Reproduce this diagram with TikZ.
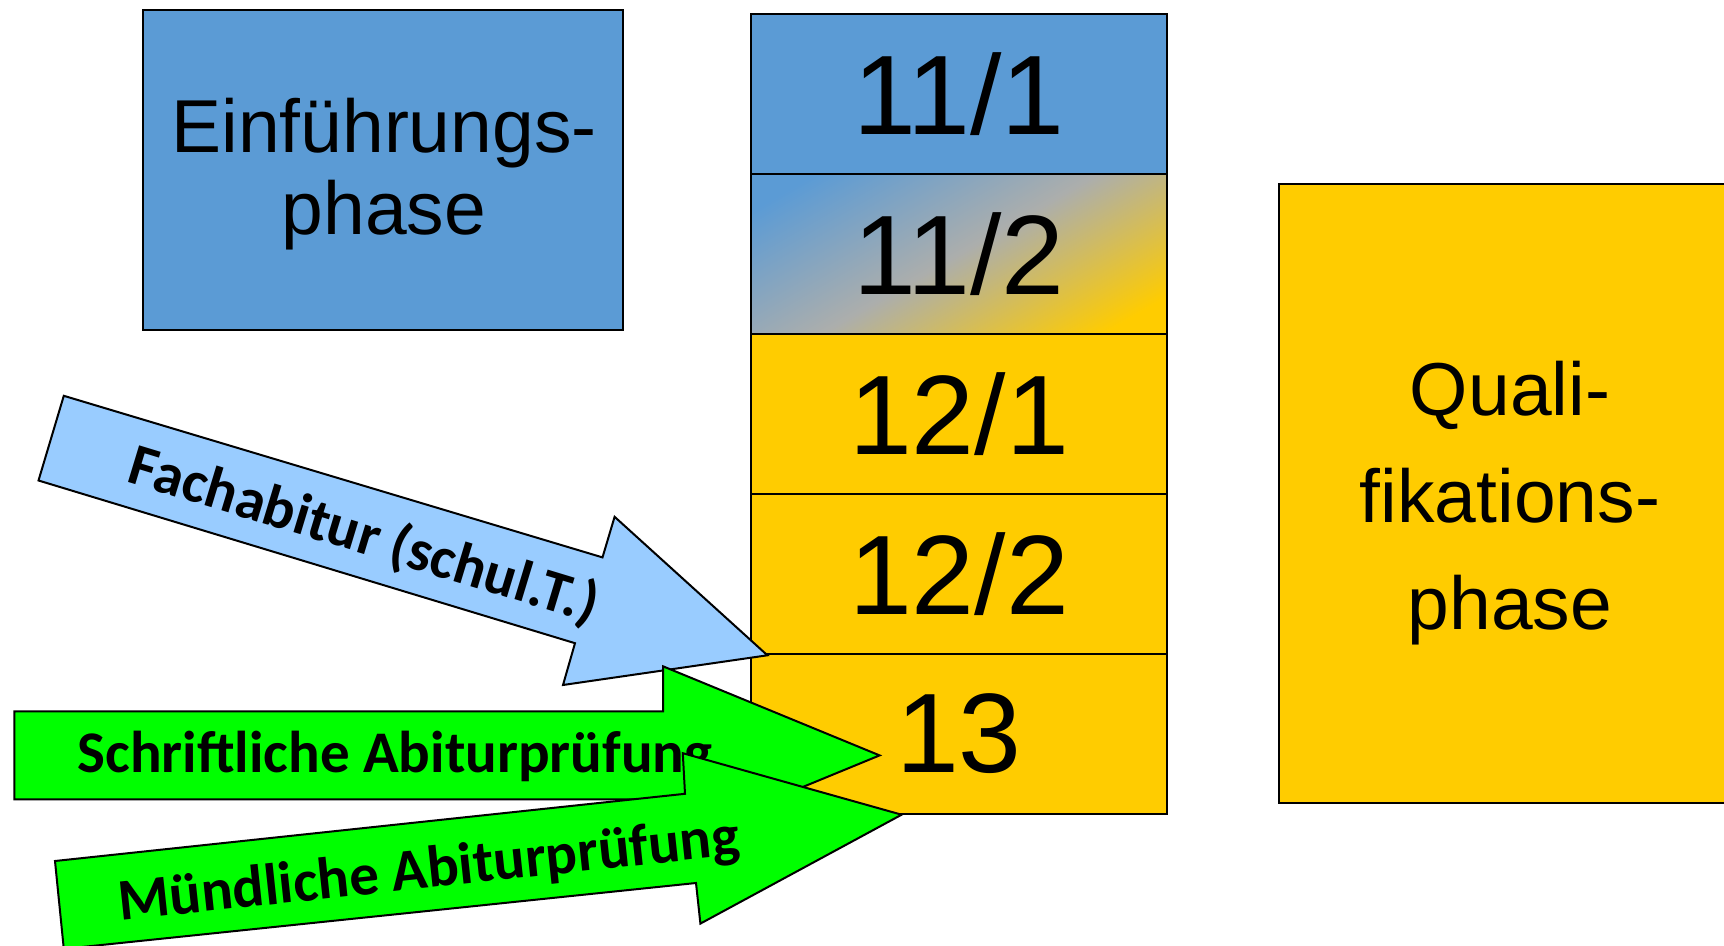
\documentclass[tikz,border=0pt]{standalone}
\usepackage{fontspec}
\setmainfont{Liberation Sans}
\newfontfamily\arrowfont{Carlito}
\usetikzlibrary{positioning}

\definecolor{phaseblue}{RGB}{91,155,213}
\definecolor{phaseyellow}{RGB}{255,204,0}
\definecolor{fachblue}{RGB}{153,204,255}
\definecolor{pruefgreen}{RGB}{0,255,0}
\definecolor{midgray}{RGB}{172,174,172}

% blue top left, yellow bottom right
\pgfdeclareverticalshading{halfshade}{100bp}{color(0bp)=(phaseyellow); color(22bp)=(phaseyellow);
    color(50bp)=(midgray); color(78bp)=(phaseblue); color(100bp)=(phaseblue)}

\tikzset{
    phasebox/.style={draw=black, line width=1pt, align=center, inner sep=0pt},
    halfyear/.style={draw=black, line width=1pt, outer sep=0pt, inner sep=0pt,
        minimum width=208pt, minimum height=80pt, font=\fontsize{56.5}{57}\selectfont},
    blockarrow/.style={draw=black, line width=1pt, line join=miter},
    arrowtext/.style={font=\arrowfont\bfseries\fontsize{29.5}{30}\selectfont, inner sep=0pt}
}

\begin{document}
\begin{tikzpicture}[x=0.5pt, y=-0.5pt]
            \clip (0,0) rectangle (1724,946);

            % phases
            \node[phasebox, fill=phaseblue, minimum width=240pt, minimum height=160pt] (einf) at (383,170) {};
            \node[align=center, font=\fontsize{37.5}{41}\selectfont] (einftext) at (384,174) {Einf\"uhrungs-\\phase};
            \node[phasebox, fill=phaseyellow, minimum width=233pt, minimum height=309.5pt] (quali) at (1512,493.5) {};
            \node[align=center, font=\fontsize{37.5}{53.5}\selectfont] (qualitext) at (1510,503) {Quali-\\fikations-\\phase};

            % half years
            \node[halfyear, fill=phaseblue] (h111) at (959,94) {11/1};
            \node[halfyear, below=0pt of h111, shading=halfshade, shading angle=30] (h112) {11/2};
            \node[halfyear, below=0pt of h112, fill=phaseyellow] (h121) {12/1};
            \node[halfyear, below=0pt of h121, fill=phaseyellow] (h122) {12/2};
            \node[halfyear, below=0pt of h122, fill=phaseyellow] (h13) {13};

            % arrows
            \draw[blockarrow, fill=fachblue] (63.8,395.8) -- (602.5,557.4) -- (614.6,516.8) -- (767.4,655.3)
                -- (563,685) -- (575,643.2) -- (38.5,480.5) -- cycle;
            \node[arrowtext, rotate=-16.9] (fach) at (364,536) {Fachabitur (schul.T.)};

            \draw[blockarrow, fill=pruefgreen] (14.3,711.4) -- (663,711.4) -- (663,666.3) -- (879.6,755.4)
                -- (663,844.5) -- (663,799.4) -- (14.3,799.4) -- cycle;
            \node[arrowtext] (schrift) at (395,757) {Schriftliche Abiturpr\"ufung};

            \draw[blockarrow, fill=pruefgreen] (55,861) -- (685,793.8) -- (682.8,753.2) -- (901.6,814.7)
                -- (700.4,923.6) -- (696,883) -- (63.8,948.9) -- cycle;
            \node[arrowtext, rotate=6.1] (muend) at (429,872) {M\"undliche Abiturpr\"ufung};

        \end{tikzpicture}
\end{document}
